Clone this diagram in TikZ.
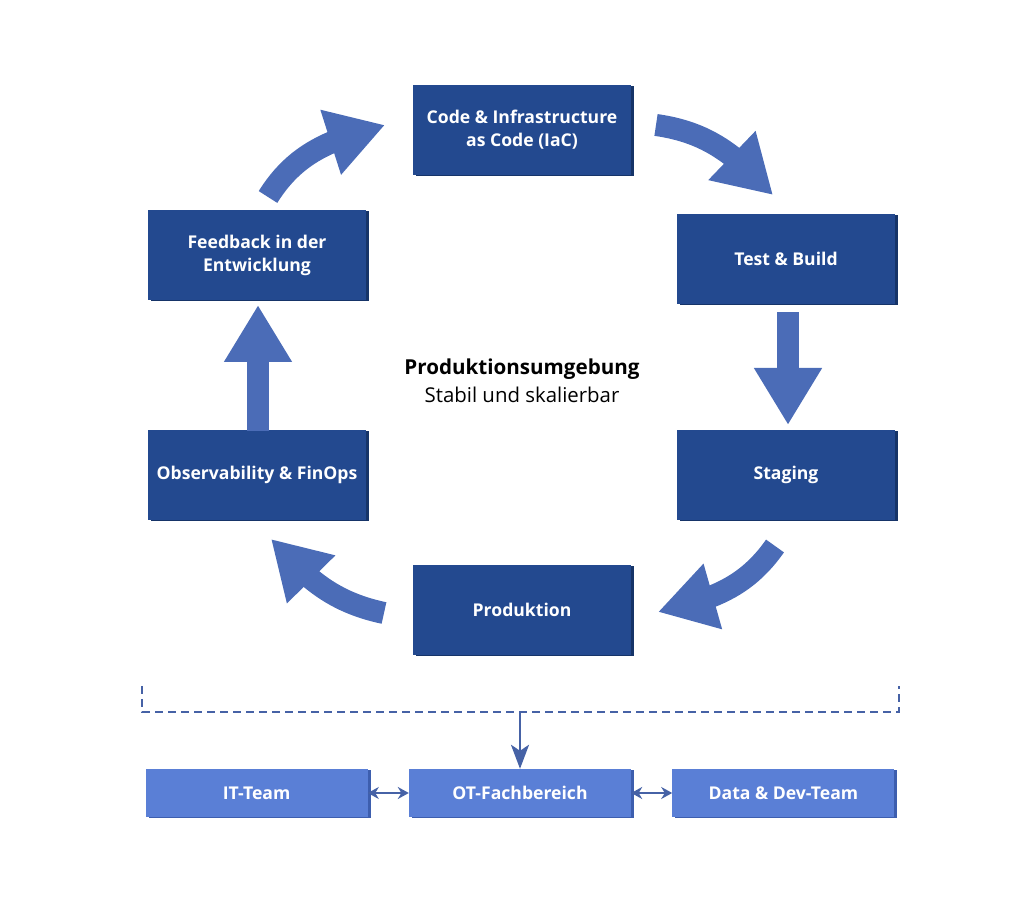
\documentclass[tikz,border=0pt]{standalone}
\usepackage{fontspec}
\setmainfont{Open Sans}
\usetikzlibrary{arrows.meta,bending,positioning,shadows}

\definecolor{stagefill}{HTML}{23498F}
\definecolor{stageedge}{HTML}{163468}
\definecolor{flowblue}{HTML}{4B6CB7}
\definecolor{teamfill}{HTML}{5A7FD6}
\definecolor{teamedge}{HTML}{3D5EAE}
\definecolor{linkblue}{HTML}{4662A6}

\tikzset{
  stage/.style={rectangle, fill=stagefill, text=white, minimum width=218pt, minimum height=90pt,
    align=center, font=\fontsize{17.6}{23}\selectfont\bfseries,
    general shadow={fill=stageedge, shadow xshift=3pt, shadow yshift=-1.5pt}},
  team/.style={rectangle, fill=teamfill, text=white, minimum width=222pt, minimum height=48pt,
    font=\fontsize{17.6}{22}\selectfont\bfseries,
    general shadow={fill=teamedge, shadow xshift=3pt, shadow yshift=-1.5pt}},
  flow/.style={draw=flowblue, line width=22pt, -{Triangle[length=57pt,width=64pt,flex]}},
  link/.style={draw=linkblue, line width=2.4pt, {Stealth[length=11pt,width=12pt]}-{Stealth[length=11pt,width=12pt]}}
}

\begin{document}
\begin{tikzpicture}[x=1pt,y=1pt]
  \useasboundingbox (0,0) rectangle (1024,901);
  % ring of stages
  \node(code) [stage] at (522,771) {Code \& Infrastructure\\as Code (IaC)};
  \node(test) [stage] at (786,642) {Test \& Build};
  \node(staging) [stage] at (786,426) {Staging};
  \node(prod) [stage] at (522,291) {Produktion};
  \node(obs) [stage] at (257,426) {Observability \& FinOps};
  \node(feedback) [stage] at (257,646) {Feedback in der\\Entwicklung};

  \node(title) [font=\fontsize{20.6}{24}\selectfont\bfseries] at (522,532) {Produktionsumgebung};
  \node(subtitle) [below=1pt of title, font=\fontsize{20.4}{24}\selectfont] {Stabil und skalierbar};

  % big arrows
  \draw[flow] (268,704) to[out=58,in=195] (385,776);
  \draw[flow] (656,776) to[out=-8,in=133] (773,706);
  \draw[flow] (test.south) ++(2,-8) -- (788,476);
  \draw[flow] (775,355) to[out=-125,in=13] (658,289);
  \draw[flow] (384,288) to[out=168,in=-48] (271,362);
  \draw[flow] (obs.north) ++(1,-1) -- (258,596);

  % teams
  \node(ot) [team] at (520,108) {OT-Fachbereich};
  \node(it) [team, left=41pt of ot] {IT-Team};
  \node(data) [team, right=41pt of ot] {Data \& Dev-Team};
  \draw[link] (it) -- (ot);
  \draw[link] (ot) -- (data);

  % bracket
  \coordinate(bl) at (142,215);
  \coordinate(br) at (899,215);
  \coordinate(bm) at (520,189);
  \draw[linkblue, line width=1.8pt, dash pattern=on 8pt off 5pt] (bl) |- (br |- bm) -- (br);
  \draw[linkblue, line width=2.5pt, -{Stealth[length=24pt,width=18pt,inset=6pt]}] (bm) -- (ot.north);
\end{tikzpicture}
\end{document}
